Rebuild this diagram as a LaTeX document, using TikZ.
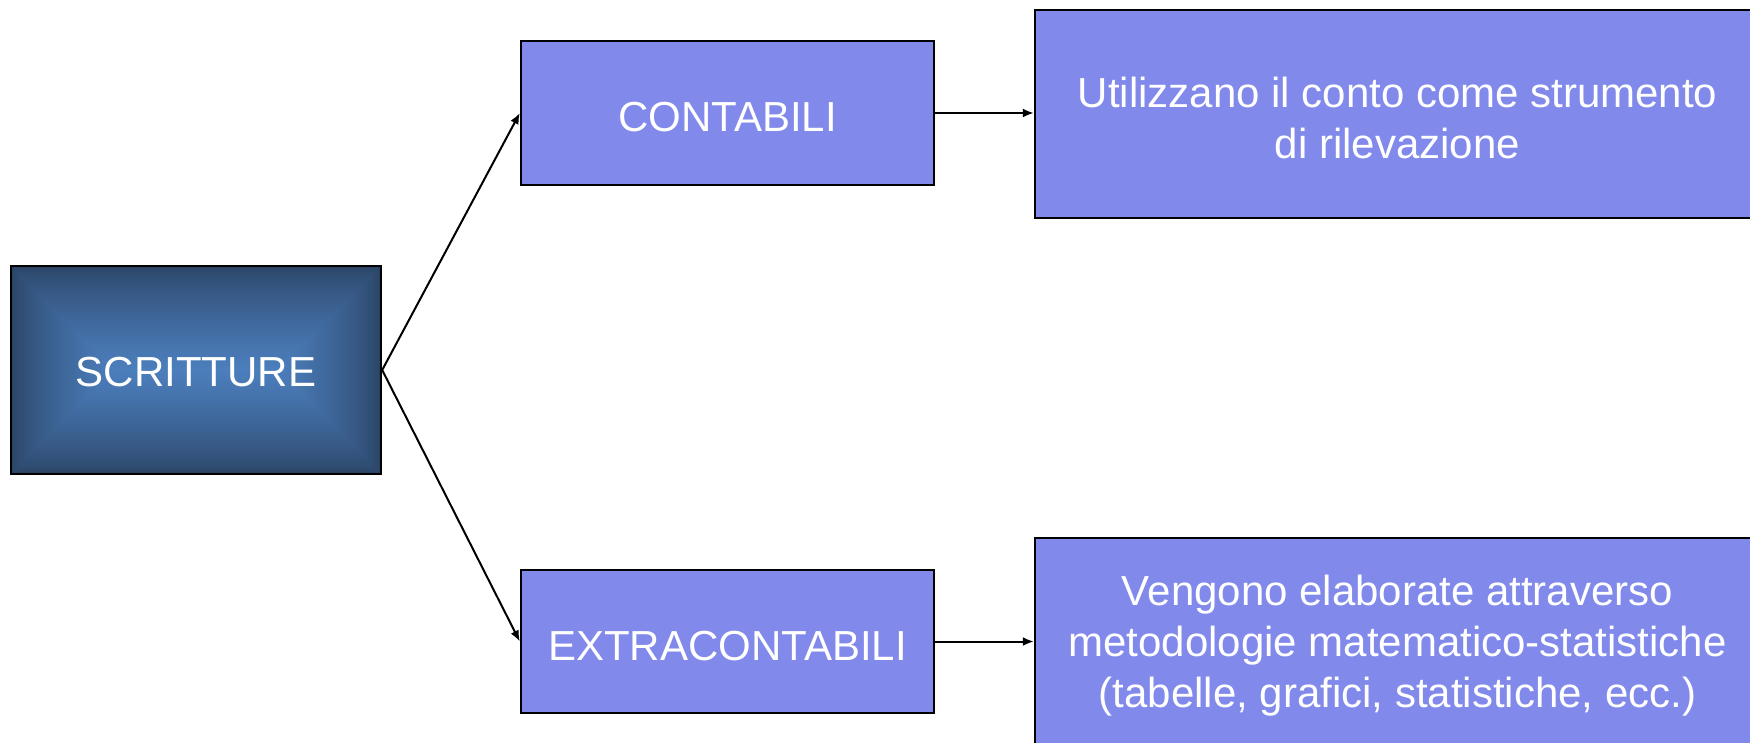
\documentclass[tikz,border=0pt]{standalone}
\usepackage{fontspec}
\setmainfont{Liberation Sans}
\usetikzlibrary{arrows.meta}
\definecolor{boxfill}{RGB}{129,137,235}
\definecolor{deepblue}{RGB}{43,68,102}
\definecolor{midblue}{RGB}{76,127,190}
% extra room above the first line, as in a full line box
\newcommand{\linetop}{\rule{0pt}{38pt}}
\tikzset{
  box/.style={draw=black, line width=2.4pt, fill=boxfill, text=white,
    align=center, inner sep=0pt, font=\fontsize{42}{51}\selectfont},
  link/.style={line width=2pt, -{Latex[length=11pt,width=9pt]}}
}
\begin{document}
\begin{tikzpicture}[x=1pt,y=-1pt]
\useasboundingbox (0,0) rectangle (1750,742);
\clip (0,0) rectangle (1750,742);
% rectangular gradient behind the root box: dark rim, light core
\foreach \i in {0,...,52} {
  \pgfmathsetmacro\d{2*\i}
  \pgfmathsetmacro\p{100*(\i/52)^0.75}
  \fill[midblue!\p!deepblue] (11+\d,266+\d) rectangle (381-\d,474-\d);
}
\node[box, fill=none, minimum width=370pt, minimum height=208pt] (scr) at (196,370) {\rule{0pt}{34pt}SCRITTURE};
\node[box, minimum width=413pt, minimum height=144pt] (cont) at (727.5,113) {\linetop CONTABILI};
\node[box, minimum width=413pt, minimum height=143pt] (extra) at (727.5,641.5) {\linetop EXTRACONTABILI};
\node[box, minimum width=725pt, minimum height=208pt] (descA) at (1397.5,114)
  {\linetop Utilizzano il conto come strumento\\di rilevazione};
\node[box, minimum width=725pt, minimum height=208pt] (descB) at (1397.5,642)
  {\linetop Vengono elaborate attraverso\\metodologie matematico-statistiche\\(tabelle, grafici, statistiche, ecc.)};
\draw[link] (scr.east) -- (cont.west);
\draw[link] (scr.east) -- (extra.west);
\draw[link] (cont.east) -- (descA.west |- cont.east);
\draw[link] (extra.east) -- (descB.west |- extra.east);
\end{tikzpicture}
\end{document}
